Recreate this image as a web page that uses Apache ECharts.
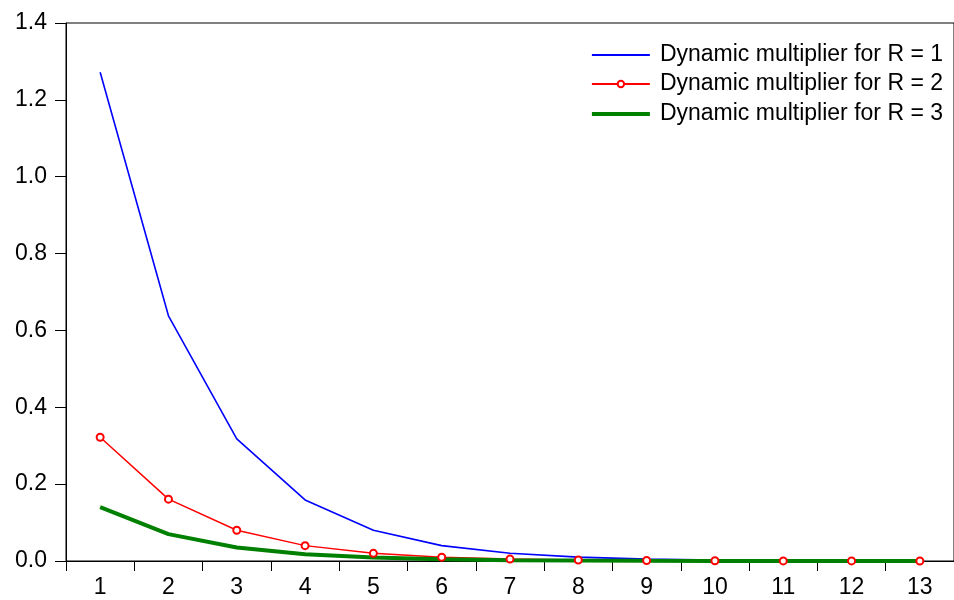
<!DOCTYPE html>
<html>
<head>
<meta charset="utf-8">
<script src="https://cdn.jsdelivr.net/npm/echarts@6/dist/echarts.min.js"></script>
<style>
	html, body { margin: 0; padding: 0; background: #fff; }
	#main { width: 954px; height: 600px; }
</style>
</head>
<body>
<div id="main"></div>
<script>
	// 数据
	var periods = ['1', '2', '3', '4', '5', '6', '7', '8', '9', '10', '11', '12', '13'];
	var multR1 = [1.272, 0.638, 0.318, 0.159, 0.080, 0.040, 0.020, 0.010, 0.005, 0.0025, 0.0012, 0.0006, 0.0003];
	var multR2 = [0.322, 0.161, 0.080, 0.040, 0.020, 0.010, 0.005, 0.0025, 0.0012, 0.0006, 0.0003, 0.00015, 0.0001];
	var multR3 = [0.140, 0.070, 0.035, 0.0175, 0.0088, 0.0044, 0.0022, 0.0011, 0.0005, 0.0003, 0.0001, 0.0001, 0.0];
	var yTicks = [0, 0.2, 0.4, 0.6, 0.8, 1.0, 1.2, 1.4];
	var names = ['Dynamic multiplier for R = 1', 'Dynamic multiplier for R = 2', 'Dynamic multiplier for R = 3'];

	var myChart = echarts.init(document.getElementById('main'));
	var font = 'Liberation Sans, Arial, sans-serif';

	// 每个图例单独一行，图标高度不同
	function legendRow(name, top, icon, h) {
		var l = {
			right: 11,
			top: top,
			padding: 0,
			itemWidth: 58,
			itemHeight: h,
			textStyle: { fontFamily: font, fontSize: 23, lineHeight: 24, color: '#000', padding: [0, 0, 0, 5] },
			data: [name]
		};
		if (icon) l.icon = icon;
		return l;
	}

	var option = {
		animation: false,
		backgroundColor: '#fff',
		legend: [
			legendRow(names[0], 43, 'rect', 2),
			legendRow(names[1], 72, null, 8),
			legendRow(names[2], 102, 'rect', 4)
		],
		grid: {
			left: 66,
			right: -9,
			top: 23,
			bottom: 39,
			show: true,
			borderColor: '#000',
			borderWidth: 1
		},
		xAxis: {
			type: 'category',
			data: periods,
			boundaryGap: true,
			axisLine: { lineStyle: { color: '#000', width: 1 } },
			axisTick: { show: true, length: 10, lineStyle: { color: '#000' } },
			axisLabel: { fontFamily: font, fontSize: 23, color: '#000', margin: 15 },
			splitLine: { show: false }
		},
		yAxis: {
			type: 'value',
			min: yTicks[0],
			max: yTicks[yTicks.length - 1],
			interval: 0.2,
			axisLine: { show: true, lineStyle: { color: '#000', width: 1 } },
			axisTick: { show: true, length: 11, lineStyle: { color: '#000' } },
			axisLabel: {
				fontFamily: font, fontSize: 23, color: '#000', margin: 19,
				formatter: function(v) { return v.toFixed(1); }
			},
			splitLine: { show: false }
		},
		series: [{
			name: names[0],
			type: 'line',
			data: multR1,
			symbol: 'none',
			lineStyle: { color: '#0000ff', width: 1.6 },
			itemStyle: { color: '#0000ff' }
		}, {
			name: names[1],
			type: 'line',
			data: multR2,
			symbol: 'emptyCircle',
			symbolSize: 7,
			lineStyle: { color: '#ff0000', width: 1.5 },
			itemStyle: { color: '#ff0000', borderWidth: 1.2 }
		}, {
			name: names[2],
			type: 'line',
			data: multR3,
			symbol: 'none',
			lineStyle: { color: '#008000', width: 4 },
			itemStyle: { color: '#008000' }
		}]
	};
	myChart.setOption(option);
</script>
</body>
</html>
